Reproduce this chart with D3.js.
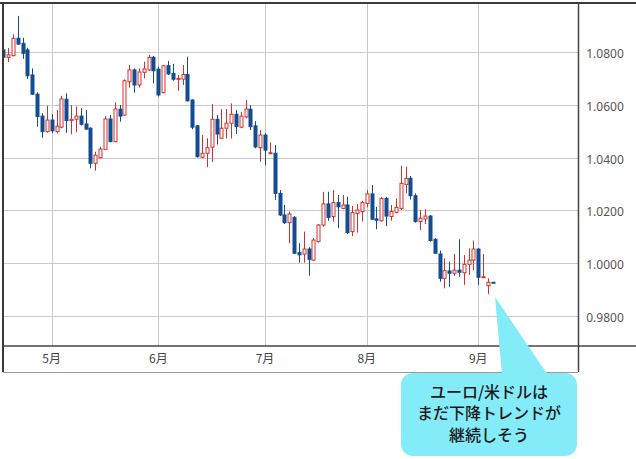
<!DOCTYPE html>
<html>
<head>
<meta charset="utf-8">
<script src="https://cdn.jsdelivr.net/npm/d3@7"></script>
<style>
  body { margin: 0; background: #fff; }
  svg { display: block; }
</style>
</head>
<body>
<script>
// trading days, 2022
const dates = [
  "04-18","04-19","04-20","04-21","04-22","04-25","04-26","04-27","04-28","04-29",
  "05-02","05-03","05-04","05-05","05-06","05-09","05-10","05-11","05-12","05-13",
  "05-16","05-17","05-18","05-19","05-20","05-23","05-24","05-25","05-26","05-27",
  "05-30","05-31",
  "06-01","06-02","06-03","06-06","06-07","06-08","06-09","06-10","06-13","06-14",
  "06-15","06-16","06-17","06-20","06-21","06-22","06-23","06-24","06-27","06-28",
  "06-29","06-30",
  "07-01","07-04","07-05","07-06","07-07","07-08","07-11","07-12","07-13","07-14",
  "07-15","07-18","07-19","07-20","07-21","07-22","07-25","07-26","07-27","07-28",
  "07-29",
  "08-01","08-02","08-03","08-04","08-05","08-08","08-09","08-10","08-11","08-12",
  "08-15","08-16","08-17","08-18","08-19","08-22","08-23","08-24","08-25","08-26",
  "08-29","08-30","08-31",
  "09-01","09-02","09-05","09-06"
];

const open = [
  1.0808,1.0780,1.0786,1.0852,1.0833,1.0808,1.0713,1.0640,1.0557,1.0498,
  1.0542,1.0498,1.0515,1.0621,1.0540,1.0545,1.0557,1.0527,1.0511,1.0378,
  1.0399,1.0431,1.0546,1.0460,1.0583,1.0561,1.0687,1.0732,1.0675,1.0723,
  1.0732,1.0780,
  1.0735,1.0646,1.0748,1.0719,1.0697,1.0697,1.0715,1.0618,1.0520,1.0401,
  1.0416,1.0439,1.0545,1.0473,1.0511,1.0530,1.0564,1.0515,1.0554,1.0583,
  1.0520,1.0437,
  1.0485,1.0416,1.0416,1.0264,1.0182,1.0153,1.0173,1.0039,1.0034,1.0053,
  1.0011,1.0081,1.0144,1.0224,1.0176,1.0229,1.0207,1.0220,1.0119,1.0188,
  1.0195,
  1.0226,1.0262,1.0167,1.0160,1.0245,1.0176,1.0192,1.0207,1.0298,1.0321,
  1.0255,1.0157,1.0167,1.0178,1.0090,1.0034,0.9942,0.9970,0.9961,0.9973,
  0.9963,0.9995,1.0011,
  1.0053,0.9945,0.9914,0.9927
];
const high = [
  1.0812,1.0815,1.0867,1.0937,1.0854,1.0816,1.0738,1.0647,1.0568,1.0596,
  1.0564,1.0580,1.0634,1.0643,1.0599,1.0593,1.0587,1.0580,1.0515,1.0422,
  1.0441,1.0557,1.0561,1.0609,1.0599,1.0696,1.0751,1.0738,1.0738,1.0763,
  1.0789,1.0785,
  1.0744,1.0751,1.0766,1.0755,1.0713,1.0751,1.0782,1.0621,1.0523,1.0485,
  1.0473,1.0603,1.0561,1.0583,1.0584,1.0605,1.0580,1.0573,1.0618,1.0599,
  1.0538,1.0504,
  1.0492,1.0457,1.0447,1.0277,1.0220,1.0195,1.0178,1.0075,1.0119,1.0060,
  1.0095,1.0148,1.0270,1.0270,1.0277,1.0258,1.0258,1.0251,1.0216,1.0224,
  1.0236,
  1.0277,1.0296,1.0213,1.0251,1.0251,1.0220,1.0245,1.0368,1.0365,1.0330,
  1.0264,1.0201,1.0204,1.0182,1.0094,1.0047,1.0018,1.0005,1.0034,1.0090,
  1.0030,1.0056,1.0085,
  1.0056,1.0034,0.9942,0.9927
];
const low = [
  1.0775,1.0762,1.0784,1.0827,1.0774,1.0698,1.0637,1.0517,1.0475,1.0494,
  1.0492,1.0492,1.0511,1.0494,1.0488,1.0496,1.0521,1.0504,1.0359,1.0350,
  1.0397,1.0428,1.0458,1.0458,1.0536,1.0558,1.0665,1.0646,1.0665,1.0700,
  1.0729,1.0681,
  1.0631,1.0643,1.0713,1.0691,1.0653,1.0675,1.0612,1.0507,1.0400,1.0397,
  1.0363,1.0383,1.0449,1.0469,1.0473,1.0472,1.0489,1.0511,1.0549,1.0504,
  1.0435,1.0384,
  1.0370,1.0415,1.0239,1.0178,1.0148,1.0075,1.0034,1.0001,1.0001,0.9952,
  1.0008,1.0078,1.0138,1.0160,1.0157,1.0132,1.0204,1.0110,1.0102,1.0115,
  1.0157,
  1.0211,1.0163,1.0128,1.0157,1.0140,1.0160,1.0188,1.0201,1.0264,1.0241,
  1.0153,1.0125,1.0148,1.0081,1.0034,0.9929,0.9904,0.9910,0.9951,0.9948,
  0.9917,0.9955,0.9973,
  0.9917,0.9945,0.9882,0.9924
];
const close = [
  1.0780,1.0789,1.0852,1.0830,1.0795,1.0710,1.0640,1.0555,1.0498,1.0542,
  1.0501,1.0519,1.0622,1.0540,1.0545,1.0557,1.0526,1.0508,1.0378,1.0409,
  1.0432,1.0546,1.0460,1.0584,1.0557,1.0691,1.0732,1.0675,1.0724,1.0736,
  1.0780,1.0729,
  1.0637,1.0748,1.0717,1.0697,1.0700,1.0715,1.0615,1.0515,1.0403,1.0416,
  1.0437,1.0545,1.0489,1.0511,1.0530,1.0564,1.0517,1.0557,1.0584,1.0517,
  1.0440,1.0485,
  1.0428,1.0418,1.0264,1.0182,1.0153,1.0186,1.0037,1.0031,1.0053,1.0014,
  1.0087,1.0144,1.0224,1.0173,1.0229,1.0213,1.0220,1.0115,1.0191,1.0201,
  1.0229,
  1.0262,1.0166,1.0162,1.0245,1.0178,1.0195,1.0211,1.0302,1.0321,1.0255,
  1.0157,1.0170,1.0178,1.0085,1.0037,0.9942,0.9971,0.9961,0.9973,0.9965,
  0.9995,1.0011,1.0053,
  0.9946,0.9948,0.9927,0.9924
];

const monthDates = ["05-02","06-01","07-01","08-01","09-01"];
const monthLabels = ["5月","6月","7月","8月","9月"];
const yTicks = [0.98, 1.00, 1.02, 1.04, 1.06, 1.08];

const calloutLines = ["ユーロ/米ドルは", "まだ下降トレンドが", "継続しそう"];

const W = 636, H = 459;
const plot = { left: 3, top: 3, right: 578, bottom: 346 };
const axisBottom = 372;

const upColor = "#d2302c";
const downColor = "#134c92";

const candles = dates.map((d, i) => ({
  date: d, o: open[i], h: high[i], l: low[i], c: close[i]
}));

const svg = d3.select("body").append("svg")
  .attr("width", W)
  .attr("height", H);

const x = d3.scalePoint()
  .domain(dates)
  .range([3.2, 3.2 + 4.848 * (dates.length - 1)]);

const y = d3.scaleLinear()
  .domain([0.98, 1.08])
  .range([315.75, 52]);

svg.append("clipPath").attr("id", "clip")
  .append("rect")
  .attr("x", plot.left).attr("y", plot.top)
  .attr("width", plot.right - plot.left)
  .attr("height", plot.bottom - plot.top);

// grid
const grid = svg.append("g").attr("stroke", "#c9c9c9").attr("stroke-width", 1);
grid.selectAll("line.h")
  .data(yTicks)
  .enter().append("line")
  .attr("class", "h")
  .attr("x1", plot.left).attr("x2", plot.right)
  .attr("y1", d => Math.round(y(d)) + 0.5)
  .attr("y2", d => Math.round(y(d)) + 0.5);
grid.selectAll("line.v")
  .data(monthDates)
  .enter().append("line")
  .attr("class", "v")
  .attr("x1", d => Math.round(x(d)) + 0.5)
  .attr("x2", d => Math.round(x(d)) + 0.5)
  .attr("y1", plot.top).attr("y2", plot.bottom);

// candles
const g = svg.append("g").attr("clip-path", "url(#clip)");
const cg = g.selectAll("g.candle")
  .data(candles)
  .enter().append("g")
  .attr("class", "candle")
  .attr("transform", d => `translate(${Math.round(x(d.date))},0)`);

cg.append("line")
  .attr("x1", 0.5).attr("x2", 0.5)
  .attr("y1", d => y(d.h))
  .attr("y2", d => y(d.l))
  .attr("stroke", d => d.c >= d.o ? upColor : downColor)
  .attr("stroke-width", 1);

cg.append("rect")
  .attr("x", -1)
  .attr("y", d => y(Math.max(d.o, d.c)))
  .attr("width", 3)
  .attr("height", d => Math.max(1, y(Math.min(d.o, d.c)) - y(Math.max(d.o, d.c))))
  .attr("fill", d => d.c >= d.o ? "#fff" : downColor)
  .attr("stroke", d => d.c >= d.o ? upColor : downColor)
  .attr("stroke-width", 1);

// frame
const frame = svg.append("g").attr("fill", "none");
frame.append("line")
  .attr("x1", 0).attr("x2", W).attr("y1", 3).attr("y2", 3)
  .attr("stroke", "#3a3a3a").attr("stroke-width", 2);
frame.append("line")
  .attr("x1", 3).attr("x2", 3).attr("y1", 3).attr("y2", axisBottom)
  .attr("stroke", "#3a3a3a").attr("stroke-width", 2);
frame.append("line")
  .attr("x1", 3).attr("x2", W).attr("y1", plot.bottom).attr("y2", plot.bottom)
  .attr("stroke", "#444").attr("stroke-width", 1.5);
frame.append("line")
  .attr("x1", plot.right + 0.5).attr("x2", plot.right + 0.5).attr("y1", 3).attr("y2", axisBottom)
  .attr("stroke", "#444").attr("stroke-width", 1.5);
frame.append("line")
  .attr("x1", 3).attr("x2", plot.right).attr("y1", axisBottom + 0.5).attr("y2", axisBottom + 0.5)
  .attr("stroke", "#9a9a9a").attr("stroke-width", 1);

// y labels
svg.append("g")
  .selectAll("text")
  .data(yTicks)
  .enter().append("text")
  .attr("x", 605)
  .attr("y", d => y(d) + 2)
  .attr("dy", "0.35em")
  .attr("text-anchor", "middle")
  .attr("font-family", "'Noto Sans', sans-serif")
  .attr("font-size", 12)
  .attr("fill", "#555")
  .text(d => d3.format(".4f")(d));

// month labels
svg.append("g")
  .selectAll("text")
  .data(monthDates)
  .enter().append("text")
  .attr("x", d => x(d))
  .attr("y", 359)
  .attr("dy", "0.35em")
  .attr("text-anchor", "middle")
  .attr("font-family", "'Noto Sans CJK JP', sans-serif")
  .attr("font-size", 12)
  .attr("fill", "#444")
  .text((d, i) => monthLabels[i]);

// callout
const callout = svg.append("g");
callout.append("path")
  .attr("d", "M495,297 L548,375 L502,375 Z")
  .attr("fill", "#84ebf9");
callout.append("rect")
  .attr("x", 401).attr("y", 373)
  .attr("width", 176).attr("height", 83)
  .attr("rx", 12).attr("ry", 12)
  .attr("fill", "#84ebf9");
callout.append("g")
  .selectAll("text")
  .data(calloutLines)
  .enter().append("text")
  .attr("x", 489)
  .attr("y", (d, i) => 392 + i * 21.7)
  .attr("dy", "0.36em")
  .attr("text-anchor", "middle")
  .attr("font-family", "'Noto Sans CJK JP', sans-serif")
  .attr("font-size", 16)
  .attr("font-weight", 500)
  .attr("fill", "#1a1a1a")
  .text(d => d);
</script>
</body>
</html>
